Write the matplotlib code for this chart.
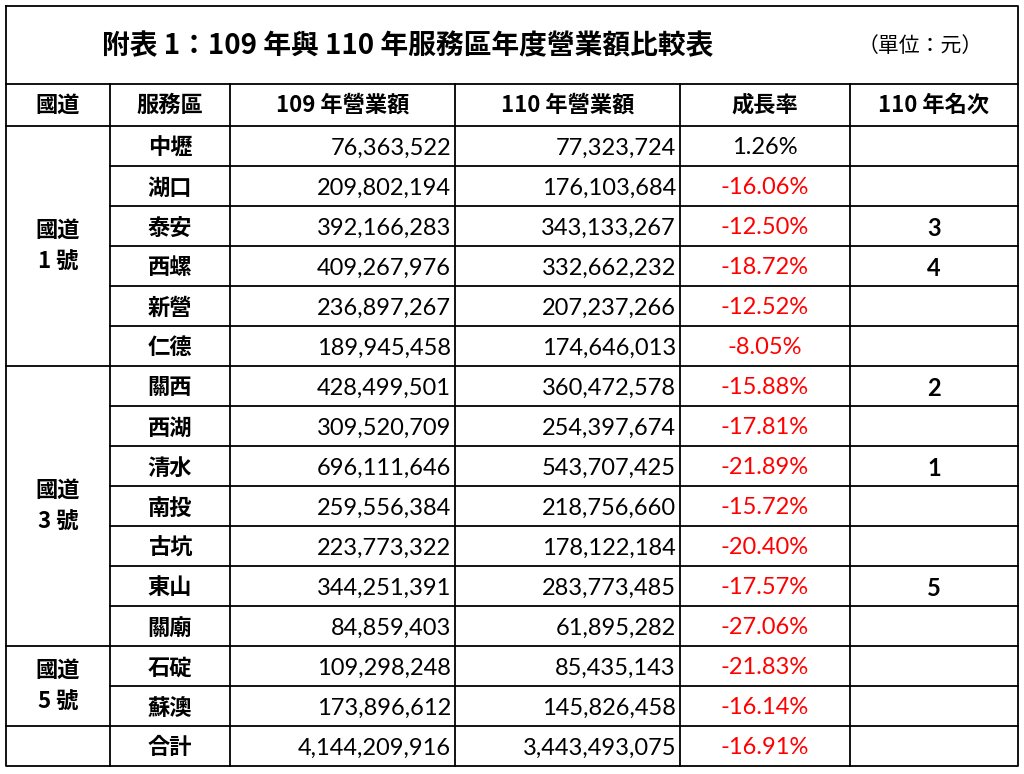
import matplotlib
matplotlib.use('Agg')
import matplotlib.pyplot as plt

title = "附表 1：109 年與 110 年服務區年度營業額比較表"
unit = "（單位：元）"
headers = ["國道", "服務區", "109 年營業額", "110 年營業額", "成長率", "110 年名次"]
areas = ["中壢", "湖口", "泰安", "西螺", "新營", "仁德", "關西", "西湖", "清水",
         "南投", "古坑", "東山", "關廟", "石碇", "蘇澳", "合計"]
rev109 = ["76,363,522", "209,802,194", "392,166,283", "409,267,976", "236,897,267",
          "189,945,458", "428,499,501", "309,520,709", "696,111,646", "259,556,384",
          "223,773,322", "344,251,391", "84,859,403", "109,298,248", "173,896,612",
          "4,144,209,916"]
rev110 = ["77,323,724", "176,103,684", "343,133,267", "332,662,232", "207,237,266",
          "174,646,013", "360,472,578", "254,397,674", "543,707,425", "218,756,660",
          "178,122,184", "283,773,485", "61,895,282", "85,435,143", "145,826,458",
          "3,443,493,075"]
growth = ["1.26%", "-16.06%", "-12.50%", "-18.72%", "-12.52%", "-8.05%", "-15.88%",
          "-17.81%", "-21.89%", "-15.72%", "-20.40%", "-17.57%", "-27.06%", "-21.83%",
          "-16.14%", "-16.91%"]
rank = ["", "", "3", "4", "", "", "2", "", "1", "", "", "5", "", "", "", ""]
groups = [("國道\n1 號", 0, 6), ("國道\n3 號", 6, 13), ("國道\n5 號", 13, 15), ("", 15, 16)]

cjk = ["Noto Sans CJK TC", "Noto Sans CJK JP", "Noto Sans CJK SC", "DejaVu Sans"]
num = ["Lato", "DejaVu Sans"]
cols = [6, 110, 230, 455, 680, 850, 1018]
top, head_top, body_top, rh = 6, 84, 126, 40
bottom = body_top + rh * len(areas)

fig = plt.figure(figsize=(10.24, 7.74), dpi=100)
ax = fig.add_axes([0, 0, 1, 1])
ax.set_xlim(0, 1024)
ax.set_ylim(774, 0)
ax.axis('off')

lw = 1.3
ax.plot([cols[0], cols[-1], cols[-1], cols[0], cols[0]], [top, top, bottom, bottom, top], color='black', lw=lw)
ax.plot([cols[0], cols[-1]], [head_top, head_top], color='black', lw=lw)
ax.plot([cols[0], cols[-1]], [body_top, body_top], color='black', lw=lw)
for x in cols[1:-1]:
    ax.plot([x, x], [head_top, bottom], color='black', lw=lw)
group_starts = {g[1] for g in groups}
for i in range(1, len(areas)):
    y = body_top + i * rh
    x0 = cols[0] if i in group_starts else cols[1]
    ax.plot([x0, cols[-1]], [y, y], color='black', lw=lw)

ax.text(408, 46, title, fontsize=20, fontweight='bold', fontfamily=cjk, ha='center', va='center')
ax.text(920, 46, unit, fontsize=15, fontfamily=cjk, ha='center', va='center')

for j, h in enumerate(headers):
    ax.text((cols[j] + cols[j + 1]) / 2, (head_top + body_top) / 2, h, fontsize=16,
            fontweight='bold', fontfamily=cjk, ha='center', va='center')

for name, s, e in groups:
    if name:
        ax.text((cols[0] + cols[1]) / 2, body_top + (s + e) / 2 * rh, name, fontsize=16,
                fontweight='bold', fontfamily=cjk, ha='center', va='center', linespacing=1.5)

for i in range(len(areas)):
    yc = body_top + i * rh + rh / 2 + 2
    ax.text((cols[1] + cols[2]) / 2, yc, areas[i], fontsize=16, fontweight='bold',
            fontfamily=cjk, ha='center', va='center')
    ax.text(cols[3] - 4, yc, rev109[i], fontsize=17, fontfamily=num, ha='right', va='center')
    ax.text(cols[4] - 4, yc, rev110[i], fontsize=17, fontfamily=num, ha='right', va='center')
    c = 'red' if growth[i].startswith('-') else 'black'
    ax.text(765, yc, growth[i], fontsize=17, fontfamily=num, color=c, ha='center', va='center')
    ax.text(934, yc, rank[i], fontsize=17, fontfamily=num, fontweight='bold', ha='center', va='center')

fig.savefig('out.png', dpi=100, facecolor='white')
